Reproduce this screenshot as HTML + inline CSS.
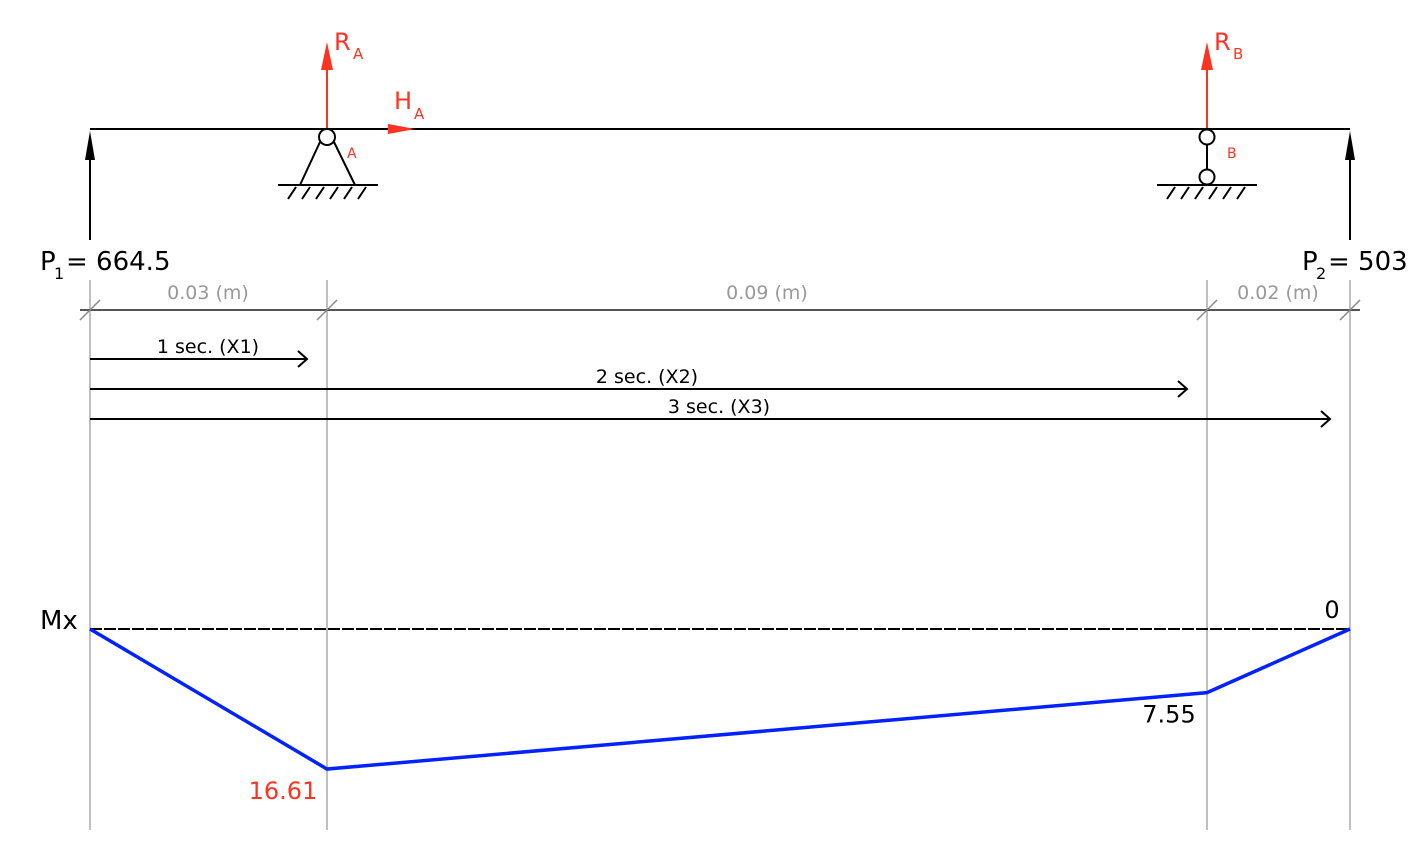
<!DOCTYPE html>
<html><head><meta charset="utf-8"><style>
html,body{margin:0;padding:0;background:#fff;}
svg{display:block;font-family:"DejaVu Sans","Liberation Sans",sans-serif;}
</style></head><body>
<svg id="c" width="1420" height="868" viewBox="0 0 1420 868" xmlns="http://www.w3.org/2000/svg">
<g id="static">
  <!-- grey extension lines -->
  <g stroke="#aaa" stroke-width="1.5">
    <line x1="90" y1="280" x2="90" y2="830"/>
    <line x1="327" y1="280" x2="327" y2="830"/>
    <line x1="1207" y1="280" x2="1207" y2="830"/>
    <line x1="1350" y1="280" x2="1350" y2="830"/>
  </g>
  <!-- beam -->
  <line x1="90" y1="129" x2="1350" y2="129" stroke="#000" stroke-width="2"/>
  <!-- P1 -->
  <g>
    <line x1="90" y1="240" x2="90" y2="140" stroke="#000" stroke-width="2"/>
    <polygon points="90,131 85,160 95,160" fill="#000"/>
    <text x="40" y="270" font-size="26" fill="#000">P</text>
    <text x="54" y="279" font-size="16" fill="#000">1</text>
    <text x="66" y="270" font-size="26" fill="#000">= 664.5</text>
  </g>
  <!-- P2 -->
  <g>
    <line x1="1350" y1="240" x2="1350" y2="140" stroke="#000" stroke-width="2"/>
    <polygon points="1350,131 1345,160 1355,160" fill="#000"/>
    <text x="1302" y="270" font-size="26" fill="#000">P</text>
    <text x="1316" y="279" font-size="16" fill="#000">2</text>
    <text x="1328" y="270" font-size="26" fill="#000">= 503</text>
  </g>
  <!-- Support A -->
  <g>
    <line x1="327" y1="128" x2="327" y2="62" stroke="#ff3322" stroke-width="2"/>
    <polygon points="327,42 321,70 333,70" fill="#ff3322"/>
    <text x="334" y="50" font-size="24" fill="#ff3322">R</text>
    <text x="353" y="59" font-size="15" fill="#ff3322">A</text>
    <polygon points="388,124 388,134 415,129" fill="#ff3322"/>
    <text x="394" y="109" font-size="24" fill="#ff3322">H</text>
    <text x="414" y="119" font-size="15" fill="#ff3322">A</text>
    <text x="347" y="158" font-size="14" fill="#ff3322">A</text>
    <line x1="300" y1="185" x2="320" y2="142" stroke="#000" stroke-width="2"/>
    <line x1="355" y1="185" x2="334" y2="142" stroke="#000" stroke-width="2"/>
    <circle cx="327" cy="137" r="8" fill="#fff" stroke="#000" stroke-width="2"/>
    <line x1="278" y1="185" x2="378" y2="185" stroke="#000" stroke-width="2"/>
    <g stroke="#000" stroke-width="2">
      <line x1="288" y1="199" x2="296" y2="187"/><line x1="302" y1="199" x2="310" y2="187"/>
      <line x1="316" y1="199" x2="324" y2="187"/><line x1="330" y1="199" x2="338" y2="187"/>
      <line x1="344" y1="199" x2="352" y2="187"/><line x1="358" y1="199" x2="366" y2="187"/>
    </g>
  </g>
  <!-- Support B -->
  <g>
    <line x1="1207" y1="128" x2="1207" y2="62" stroke="#ff3322" stroke-width="2"/>
    <polygon points="1207,42 1201,70 1213,70" fill="#ff3322"/>
    <text x="1214" y="50" font-size="24" fill="#ff3322">R</text>
    <text x="1233" y="59" font-size="15" fill="#ff3322">B</text>
    <text x="1227" y="158" font-size="14" fill="#ff3322">B</text>
    <line x1="1207" y1="145" x2="1207" y2="170" stroke="#000" stroke-width="2"/>
    <circle cx="1207" cy="137" r="7.5" fill="#fff" stroke="#000" stroke-width="2"/>
    <circle cx="1207" cy="177" r="7.5" fill="#fff" stroke="#000" stroke-width="2"/>
    <line x1="1157" y1="185" x2="1257" y2="185" stroke="#000" stroke-width="2"/>
    <g stroke="#000" stroke-width="2">
      <line x1="1167" y1="199" x2="1175" y2="187"/><line x1="1181" y1="199" x2="1189" y2="187"/>
      <line x1="1195" y1="199" x2="1203" y2="187"/><line x1="1209" y1="199" x2="1217" y2="187"/>
      <line x1="1223" y1="199" x2="1231" y2="187"/><line x1="1237" y1="199" x2="1245" y2="187"/>
    </g>
  </g>
  <!-- Dimension line -->
  <g>
    <line x1="80" y1="310" x2="1360" y2="310" stroke="#555" stroke-width="2"/>
    <g stroke="#888" stroke-width="1.5">
      <line x1="80" y1="320" x2="100" y2="300"/><line x1="317" y1="320" x2="337" y2="300"/>
      <line x1="1197" y1="320" x2="1217" y2="300"/><line x1="1340" y1="320" x2="1360" y2="300"/>
    </g>
    <g fill="#999" font-size="19" text-anchor="middle">
      <text x="208" y="299">0.03 (m)</text>
      <text x="767" y="299">0.09 (m)</text>
      <text x="1278" y="299">0.02 (m)</text>
    </g>
  </g>
  <!-- Sections -->
  <g stroke="#000" stroke-width="2" fill="none">
    <line x1="90" y1="359" x2="307" y2="359"/><polyline points="298,351 307,359 298,367"/>
    <line x1="90" y1="389" x2="1187" y2="389"/><polyline points="1178,381 1187,389 1178,397"/>
    <line x1="90" y1="419" x2="1330" y2="419"/><polyline points="1321,411 1330,419 1321,427"/>
  </g>
  <g font-size="19" fill="#000" text-anchor="middle">
    <text x="208" y="353">1 sec. (X1)</text>
    <text x="647" y="383">2 sec. (X2)</text>
    <text x="719" y="413">3 sec. (X3)</text>
  </g>
  <!-- zero line -->
  <line x1="90" y1="629" x2="1350" y2="629" stroke="#000" stroke-width="2" stroke-dasharray="12,2"/>
  <text x="40" y="629" font-size="26" fill="#000">Mx</text>
</g>
<g id="chart"></g>
<script>
const positions = [0, 0.03, 0.12, 0.14];
const moments = [0, 16.61, 7.55, 0];
const valueLabels = ["", "16.61", "7.55", "0"];
const NS = "http://www.w3.org/2000/svg";
const posX = [90, 327, 1207, 1350];
function xScale(p){
  for (let i = 0; i < positions.length - 1; i++) {
    if (p <= positions[i+1]) {
      const t = (p - positions[i]) / (positions[i+1] - positions[i]);
      return posX[i] + t * (posX[i+1] - posX[i]);
    }
  }
  return posX[posX.length-1];
}
function yScale(m){ return 629 + m * 8.43; }
const g = document.getElementById('chart');
const pts = positions.map((p,i)=>xScale(p)+','+yScale(moments[i])).join(' ');
const pl = document.createElementNS(NS,'polyline');
pl.setAttribute('points', pts);
pl.setAttribute('fill','none');
pl.setAttribute('stroke','#0022ff');
pl.setAttribute('stroke-width','3.5');


g.appendChild(pl);
const lab = [
  {i:1, dx:-44, dy:30, color:'#ff3322'},
  {i:2, dx:-38, dy:30, color:'#000'},
  {i:3, dx:-18, dy:-11, color:'#000'}
];
lab.forEach(o=>{
  const t = document.createElementNS(NS,'text');
  t.setAttribute('x', xScale(positions[o.i]) + o.dx);
  t.setAttribute('y', yScale(moments[o.i]) + o.dy);
  t.setAttribute('font-size','24');
  t.setAttribute('fill', o.color);
  t.setAttribute('text-anchor','middle');
  t.textContent = valueLabels[o.i];
  
  
  g.appendChild(t);
});
</script>
</svg>
</body></html>
